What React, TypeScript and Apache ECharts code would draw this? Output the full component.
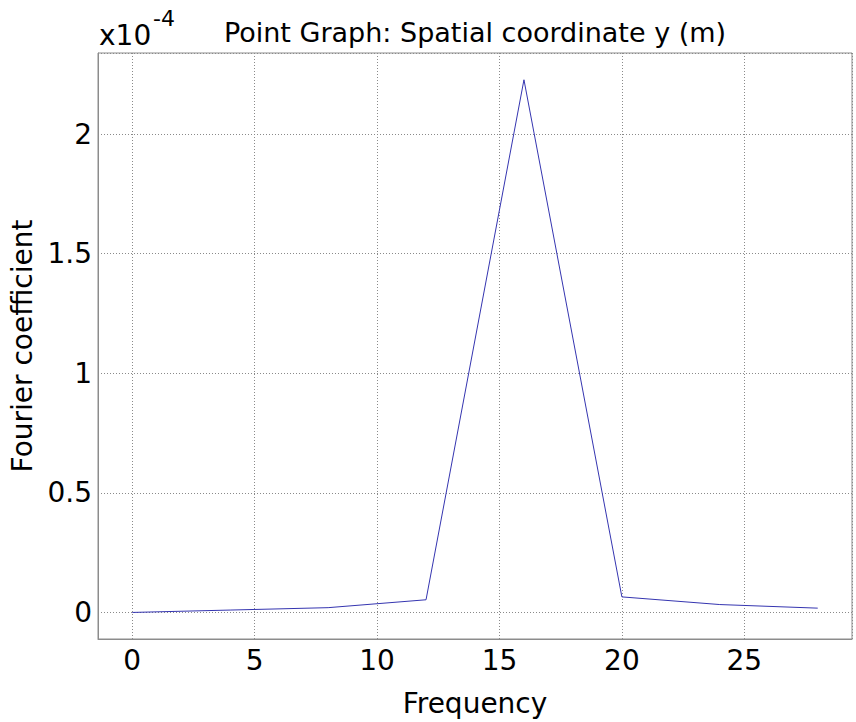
import React, { useEffect, useRef } from "react";
import * as echarts from "echarts";

const frequencies = [0, 4, 8, 12, 16, 20, 24, 28];
const coefficients = [0.0, 0.01, 0.02, 0.053, 2.227, 0.065, 0.033, 0.018];
const titleText = "Point Graph: Spatial coordinate y (m)";
const xName = "Frequency";
const yName = "Fourier coefficient";

const FONT = "DejaVu Sans";

export default function App() {
  const ref = useRef<HTMLDivElement>(null);
  useEffect(() => {
    document.body.style.margin = "0";
    if (!ref.current) return;
    const chart = echarts.init(ref.current, undefined, { renderer: "svg" });
    const data = frequencies.map((f, i) => [f, coefficients[i]]);
    chart.setOption({
      animation: false,
      backgroundColor: "#ffffff",
      textStyle: { fontFamily: FONT },
      grid: {
        left: 98,
        right: 4,
        top: 53,
        bottom: 69,
        show: true,
        borderColor: "#8c8c8c",
        borderWidth: 1,
        containLabel: false,
      },
      graphic: [
        {
          type: "text",
          x: 475,
          y: 32,
          style: {
            text: titleText,
            fontSize: 27,
            fontFamily: FONT,
            fill: "#000",
            align: "center",
            verticalAlign: "middle",
          },
        },
        {
          type: "text",
          x: 99,
          y: 35.5,
          style: {
            text: "x10",
            fontSize: 28,
            fontFamily: FONT,
            fill: "#000",
            align: "left",
            verticalAlign: "middle",
          },
        },
        {
          type: "text",
          x: 153,
          y: 18,
          style: {
            text: "-4",
            fontSize: 22,
            fontFamily: FONT,
            fill: "#000",
            align: "left",
            verticalAlign: "middle",
          },
        },
      ],
      xAxis: {
        type: "value",
        min: -1.4,
        max: 29.4,
        splitNumber: 6,
        name: xName,
        nameLocation: "middle",
        nameGap: 50,
        nameTextStyle: { fontSize: 28, fontFamily: FONT, color: "#000" },
        axisLine: { show: true, onZero: false, lineStyle: { color: "#8c8c8c", width: 1 } },
        axisTick: { show: false },
        axisLabel: {
          fontSize: 28,
          fontFamily: FONT,
          color: "#000",
          margin: 7,
          showMinLabel: false,
          showMaxLabel: false,
        },
        splitLine: {
          show: true,
          lineStyle: { color: "#8a8a8a", type: [1, 2], width: 1 },
        },
      },
      yAxis: {
        type: "value",
        min: -0.111,
        max: 2.339,
        splitNumber: 5,
        name: yName,
        nameLocation: "middle",
        nameGap: 48,
        nameTextStyle: { fontSize: 28, fontFamily: FONT, color: "#000" },
        axisLine: { show: true, onZero: false, lineStyle: { color: "#8c8c8c", width: 1 } },
        axisTick: { show: false },
        axisLabel: {
          fontSize: 28,
          fontFamily: FONT,
          color: "#000",
          margin: 6,
          showMinLabel: false,
          showMaxLabel: false,
        },
        splitLine: {
          show: true,
          lineStyle: { color: "#8a8a8a", type: [1, 2], width: 1 },
        },
      },
      series: [
        {
          type: "line",
          data,
          showSymbol: false,
          symbol: "none",
          lineStyle: { color: "#3535b0", width: 1 },
        },
      ],
    });
    return () => chart.dispose();
  }, []);
  return <div ref={ref} style={{ width: 856, height: 722 }} />;
}
